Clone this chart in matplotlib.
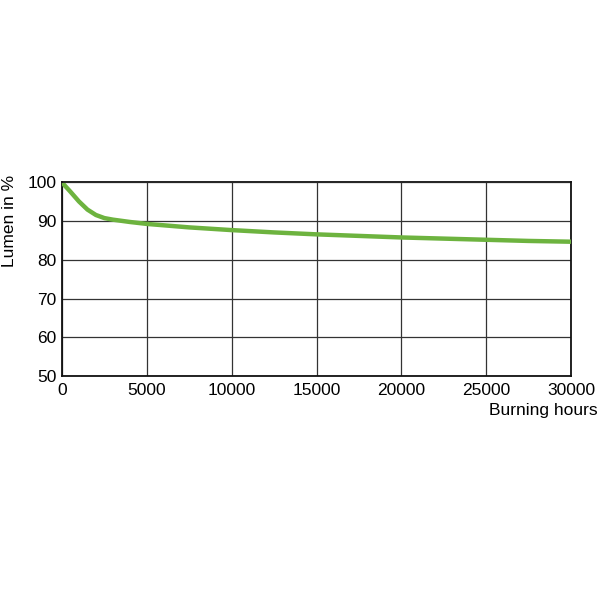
import numpy as np
import matplotlib.pyplot as plt

plt.rcParams['font.family'] = ['Liberation Sans', 'DejaVu Sans']

# lumen maintenance curve
hours = [0, 500, 1000, 1500, 2000, 2500, 3000, 4000, 5000, 7500, 10000,
         12500, 15000, 17500, 20000, 22500, 25000, 27500, 30000]
lumen = [100, 97.6, 95.1, 93.0, 91.6, 90.8, 90.4, 89.8, 89.3, 88.4, 87.7,
         87.1, 86.6, 86.2, 85.8, 85.5, 85.2, 84.9, 84.7]

x_ticks = [0, 5000, 10000, 15000, 20000, 25000, 30000]
y_ticks = [50, 60, 70, 80, 90, 100]

fig = plt.figure(figsize=(6, 6), dpi=100, facecolor='white')
ax = fig.add_axes([62 / 600, 1 - 376 / 600, 509 / 600, 193.5 / 600])

ax.plot(hours, lumen, color='#6db33f', linewidth=3.2, solid_capstyle='butt', zorder=3)

ax.set_xlim(0, 30000)
ax.set_ylim(50, 100)
ax.set_xticks(x_ticks)
ax.set_yticks(y_ticks)
ax.set_xticklabels([str(v) for v in x_ticks], fontsize=12.5)
ax.set_yticklabels([str(v) for v in y_ticks], fontsize=12.5)
ax.tick_params(axis='x', length=0, pad=5)
ax.tick_params(axis='y', length=0, pad=4)

ax.grid(True, color='#333333', linewidth=0.9)
ax.set_axisbelow(True)
for s in ax.spines.values():
    s.set_color('#111111')
    s.set_linewidth(1.3)

fig.text(598 / 600, 1 - 411 / 600, 'Burning hours', ha='right', va='center', fontsize=12.5)
fig.text(10 / 600, 1 - 175 / 600, 'Lumen in %', ha='center', va='top', rotation=90, fontsize=12.5)

fig.savefig('out.png', dpi=100, facecolor='white')
